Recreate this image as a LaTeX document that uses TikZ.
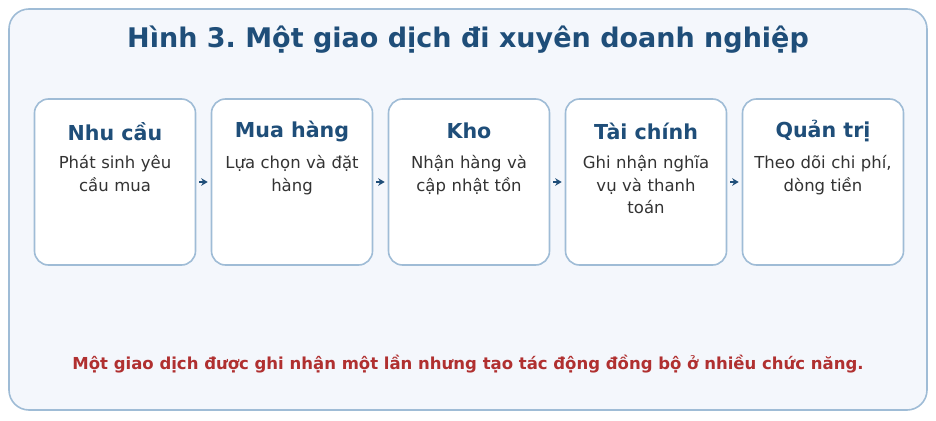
\documentclass[tikz,border=0pt]{standalone}
\usepackage{fontspec}
\setmainfont{DejaVu Sans}
\usetikzlibrary{positioning,arrows.meta}
\definecolor{titleblue}{HTML}{1F4E79}
\definecolor{edgeblue}{HTML}{9FBCD6}
\definecolor{panelbg}{HTML}{F4F7FC}
\definecolor{bodygray}{HTML}{333333}
\definecolor{noteRed}{HTML}{B03030}
\frenchspacing

\begin{document}
\begin{tikzpicture}[x=1pt, y=-1pt,
    stage/.style={draw=edgeblue, line width=1.6pt, fill=white, rounded corners=14pt,
        minimum width=161pt, minimum height=166pt, inner sep=0pt},
    stagetitle/.style={font=\bfseries\fontsize{20.6}{24}\selectfont, text=titleblue, inner sep=0pt},
    stagebody/.style={font=\fontsize{16.5}{22.5}\selectfont, text=bodygray, align=center,
        text width=158pt, inner sep=0pt, anchor=north},
    link/.style={draw=titleblue, line width=1.6pt, -{Stealth[length=6.5pt, width=7.5pt]},
        shorten <=3pt, shorten >=3pt}]
        \useasboundingbox (0, 0) rectangle (936, 420);
        \draw[edgeblue, fill=panelbg, line width = 1.6pt, rounded corners=20pt] (9, 9) rectangle (927, 410);
        \node[font=\bfseries\fontsize{27}{30}\selectfont, text=titleblue] (title) at (468, 40) {Hình 3. Một giao dịch đi xuyên doanh nghiệp};
        % five stages
        \node[stage] (nhucau) at (115, 182) {};
        \node[stage, right=14.4pt of nhucau] (muahang) {};
        \node[stage, right=14.4pt of muahang] (kho) {};
        \node[stage, right=14.4pt of kho] (taichinh) {};
        \node[stage, right=14.4pt of taichinh] (quantri) {};
        \node[stagetitle] (nhucau-t) at ([yshift=-33pt]nhucau.north) {Nhu cầu};
        \node[stagetitle] (muahang-t) at ([yshift=-33pt]muahang.north) {Mua hàng};
        \node[stagetitle] (kho-t) at ([yshift=-33pt]kho.north) {Kho};
        \node[stagetitle] (taichinh-t) at ([yshift=-33pt]taichinh.north) {Tài chính};
        \node[stagetitle] (quantri-t) at ([yshift=-33pt]quantri.north) {Quản trị};
        \node[stagebody] (nhucau-b) at ([yshift=-57pt]nhucau.north) {Phát sinh yêu\\cầu mua};
        \node[stagebody] (muahang-b) at ([yshift=-57pt]muahang.north) {Lựa chọn và đặt\\hàng};
        \node[stagebody] (kho-b) at ([yshift=-57pt]kho.north) {Nhận hàng và\\cập nhật tồn};
        \node[stagebody] (taichinh-b) at ([yshift=-57pt]taichinh.north) {Ghi nhận nghĩa\\vụ và thanh\\toán};
        \node[stagebody] (quantri-b) at ([yshift=-57pt]quantri.north) {Theo dõi chi phí,\\dòng tiền};
        \draw[link] (nhucau) -- (muahang);
        \draw[link] (muahang) -- (kho);
        \draw[link] (kho) -- (taichinh);
        \draw[link] (taichinh) -- (quantri);
        \node[font=\bfseries\fontsize{16.5}{20}\selectfont, text=noteRed] (note) at (468, 364) {Một giao dịch được ghi nhận một lần nhưng tạo tác động đồng bộ ở nhiều chức năng.};
\end{tikzpicture}
\end{document}
